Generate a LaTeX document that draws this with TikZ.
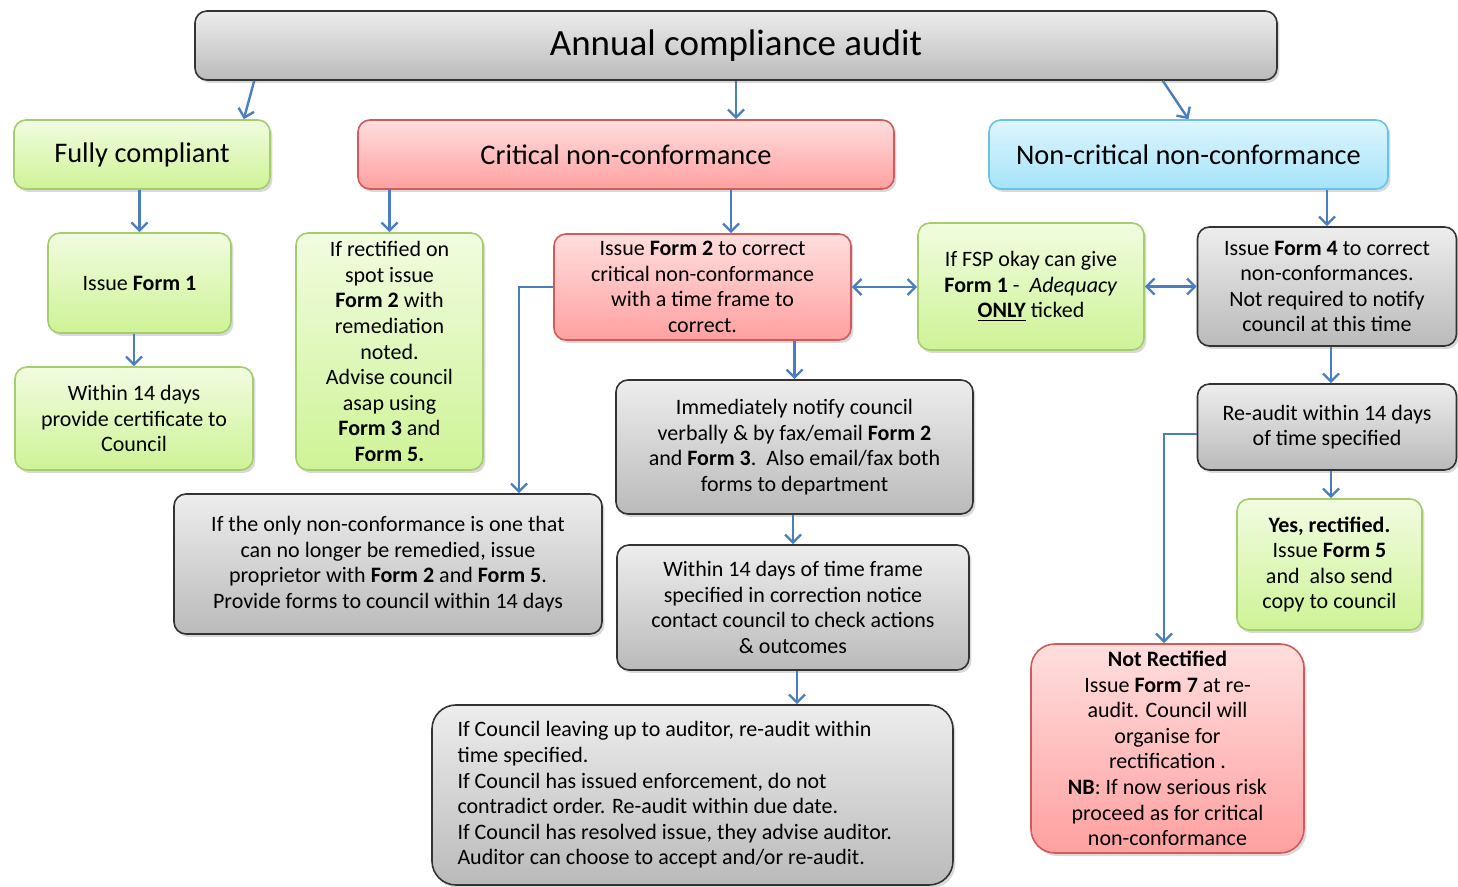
\documentclass[tikz,border=0pt]{standalone}
\usepackage{fontspec}
\setmainfont{Carlito}
\usetikzlibrary{arrows.meta,shadows,positioning}

\definecolor{flowblue}{RGB}{74,126,192}
\definecolor{greentop}{RGB}{241,252,224}
\definecolor{greenbot}{RGB}{206,243,150}
\definecolor{greenline}{RGB}{165,205,110}
\definecolor{redtop}{RGB}{255,222,222}
\definecolor{redbot}{RGB}{255,160,160}
\definecolor{redline}{RGB}{210,90,90}
\definecolor{bluetop}{RGB}{222,246,253}
\definecolor{bluebot}{RGB}{165,227,250}
\definecolor{blueline}{RGB}{105,195,230}

\begin{document}
\begin{tikzpicture}[x=0.5pt,y=-0.5pt,
    box/.style={draw, rounded corners=6pt, line width=0.8pt, align=center, inner sep=1pt,
      font=\fontsize{11}{12.8}\selectfont,
      drop shadow={opacity=0.3,shadow xshift=1.2pt,shadow yshift=-1.5pt}},
    grey/.style={box, draw=black!80, top color=black!7, bottom color=black!27},
    green/.style={box, draw=greenline, top color=greentop, bottom color=greenbot},
    red/.style={box, draw=redline, top color=redtop, bottom color=redbot},
    blue/.style={box, draw=blueline, top color=bluetop, bottom color=bluebot},
    head/.style={font=\fontsize{14.2}{17}\selectfont},
    flow/.style={draw=flowblue, line width=1.2pt, -{Straight Barb[length=4pt,width=8pt]}},
    both/.style={flow, {Straight Barb[length=4pt,width=8pt]}-{Straight Barb[length=4pt,width=8pt]}}]
  \useasboundingbox (0,0) rectangle (1458,887);

  % top row
  \node[grey, font=\fontsize{18.5}{22}\selectfont, minimum width=541pt, minimum height=34.5pt] (audit) at (736,45.5) {Annual compliance audit};
  \node[green, head, minimum width=128pt, minimum height=34.5pt] (full) at (142,154.5) {Fully compliant};
  \node[red, head, minimum width=268pt, minimum height=34.5pt] (crit) at (626,154.5) {Critical non-conformance};
  \node[blue, head, minimum width=199.5pt, minimum height=34.5pt] (noncrit) at (1188.5,154.5) {Non-critical non-conformance};

  % fully compliant branch
  \node[green, minimum width=91.5pt, minimum height=50pt] (form1) at (139.5,283) {Issue \textbf{Form 1}};
  \node[green, minimum width=119pt, minimum height=51.5pt] (cert) at (134,418.5) {Within 14 days\\provide certificate to\\Council};

  % critical branch
  \node[green, minimum width=93.5pt, minimum height=118.5pt] (spot) at (389.5,351.5) {If rectified on\\spot issue\\\textbf{Form 2} with\\remediation\\noted.\\Advise council\\asap using\\\textbf{Form 3} and\\\textbf{Form 5.}};
  \node[red, minimum width=148.5pt, minimum height=53pt] (form2) at (702.5,287) {Issue \textbf{Form 2} to correct\\critical non-conformance\\with a time frame to\\correct.};
  \node[grey, minimum width=214pt, minimum height=70pt] (onlync) at (388,564) {If the only non-conformance is one that\\can no longer be remedied, issue\\proprietor with \textbf{Form 2} and \textbf{Form 5}.\\Provide forms to council within 14 days};
  \node[grey, minimum width=178.5pt, minimum height=67pt] (notify) at (794.5,447) {Immediately notify council\\verbally \& by fax/email \textbf{Form 2}\\and \textbf{Form 3}.\ \ Also email/fax both\\forms to department};
  \node[grey, minimum width=176pt, minimum height=62.5pt] (within) at (793,607.5) {Within 14 days of time frame\\specified in correction notice\\contact council to check actions\\\& outcomes};
  \node[grey, rounded corners=12pt, align=flush left, text width=235pt, minimum width=260.5pt, minimum height=90pt] (council) at (692.5,795) {If Council leaving up to auditor, re-audit within\\time specified.\\If Council has issued enforcement, do not\\contradict order. Re-audit within due date.\\If Council has resolved issue, they advise auditor.\\Auditor can choose to accept and/or re-audit.};

  % non-critical branch
  \node[green, minimum width=113pt, minimum height=63.5pt] (fsp) at (1031,286.5) {If FSP okay can give\\\textbf{Form 1} - \ \textit{Adequacy}\\\underline{\textbf{ONLY}} ticked};
  \node[grey, minimum width=129.5pt, minimum height=59.5pt] (form4) at (1327,286.5) {Issue \textbf{Form 4} to correct\\non-conformances.\\Not required to notify\\council at this time};
  \node[grey, minimum width=129.5pt, minimum height=43pt] (reaudit) at (1327,427) {Re-audit within 14 days\\of time specified};
  \node[green, minimum width=92.5pt, minimum height=65.5pt] (yes) at (1329.5,564.5) {\textbf{Yes, rectified.}\\Issue \textbf{Form 5}\\and \ also send\\copy to council};
  \node[red, rounded corners=12pt, minimum width=136.5pt, minimum height=104.5pt] (notrect) at (1167.5,748.5) {\textbf{Not Rectified}\\Issue \textbf{Form 7} at re-\\audit. Council will\\organise for\\rectification .\\\textbf{NB}: If now serious risk\\proceed as for critical\\non-conformance};

  % connectors
  \path[every edge/.style=flow]
    ([xshift=30pt]audit.south west) edge ([xshift=-13.5pt]full.north east)
    (audit.south) edge (audit.south |- crit.north)
    ([xshift=-57.5pt]audit.south east) edge (noncrit.north)
    (form1.north |- full.south) edge (form1.north)
    (cert.north |- form1.south) edge (cert.north)
    (spot.north |- crit.south) edge (spot.north)
    ([xshift=14.25pt]form2.north |- crit.south) edge ([xshift=14.25pt]form2.north)
    (form4.north |- noncrit.south) edge (form4.north)
    ([xshift=2pt]form4.south) edge ([xshift=2pt]reaudit.north)
    ([xshift=2pt]reaudit.south) edge ([xshift=2pt]reaudit.south |- yes.north)
    (notify.north |- form2.south) edge (notify.north)
    (within.north |- notify.south) edge (within.north)
    ([xshift=2pt]within.south) edge ([xshift=2pt]within.south |- council.north);
  \draw[both] (form2.east) -- (form2.east -| fsp.west);
  \draw[both] (fsp.east) -- (fsp.east -| form4.west);
  \draw[flow] ([yshift=-3.5pt]reaudit.west) -| ([xshift=-1.75pt]notrect.north);
  \draw[flow] (form2.west) -| ([xshift=65.5pt]onlync.north);
\end{tikzpicture}
\end{document}
